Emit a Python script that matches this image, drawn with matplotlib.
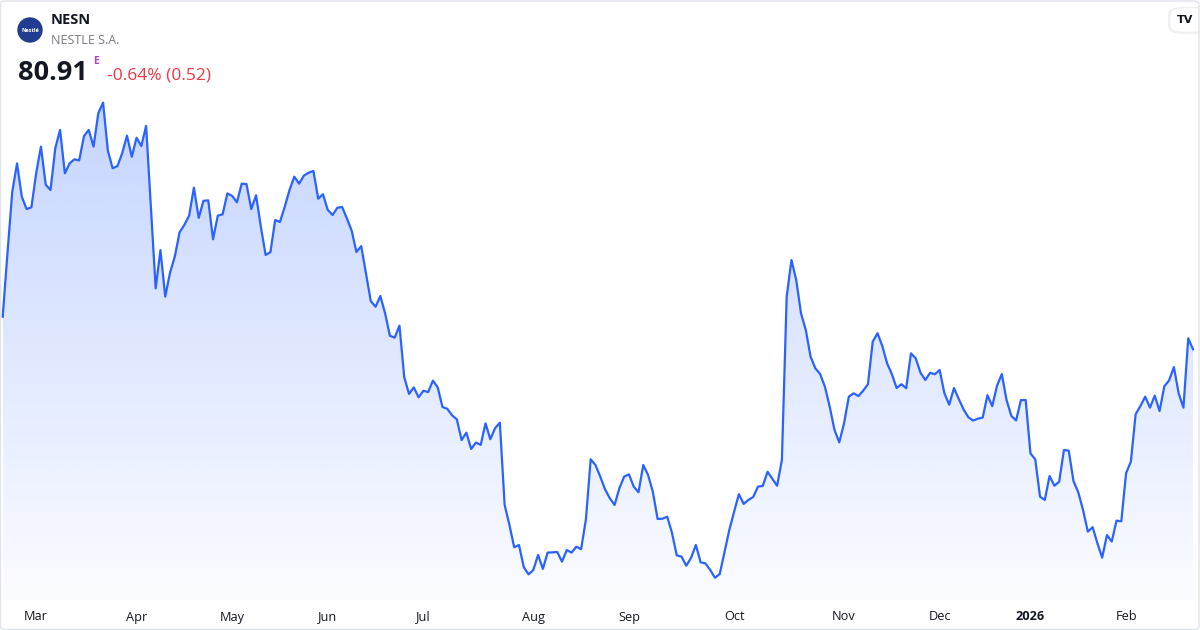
import numpy as np
import pandas as pd
import matplotlib
matplotlib.use('Agg')
import matplotlib.pyplot as plt
from matplotlib.patches import Ellipse, FancyBboxPatch

# header text
ticker = 'NESN'
company = 'NESTLE S.A.'
last_price = '80.91'
change_text = '-0.64% (0.52)'

# SIX trading days, Feb 20 2025 .. Feb 20 2026
holidays = ['2025-04-18', '2025-04-21', '2025-05-01', '2025-05-29', '2025-06-09',
            '2025-08-01', '2025-12-24', '2025-12-25', '2025-12-26', '2025-12-31',
            '2026-01-01', '2026-01-02']
dates = pd.bdate_range('2025-02-20', '2026-02-20', freq='C', holidays=holidays)

# daily close (CHF)
close = [
    82.45, 85.46, 88.36, 89.70, 88.12, 87.54, 87.62, 89.23, 90.49, 88.69,
    88.44, 90.41, 91.28, 89.23, 89.70, 89.89, 89.84, 90.99, 91.28, 90.49,
    92.07, 92.57, 90.30, 89.47, 89.57, 90.18, 91.01, 90.01, 90.91, 90.52,
    91.47, 87.59, 83.79, 85.60, 83.40, 84.53, 85.29, 86.44, 86.79, 87.23,
    88.55, 87.12, 87.93, 87.95, 86.11, 87.23, 87.29, 88.28, 88.16, 87.86,
    88.74, 88.72, 87.54, 88.19, 86.71, 85.37, 85.50, 87.02, 86.93, 87.65,
    88.44, 89.07, 88.74, 89.12, 89.26, 89.34, 88.03, 88.24, 87.50, 87.26,
    87.60, 87.64, 87.10, 86.52, 85.51, 85.79, 84.50, 83.19, 82.92, 83.43,
    82.61, 81.55, 81.46, 82.03, 79.59, 78.80, 79.11, 78.64, 78.95, 78.89,
    79.43, 79.11, 78.18, 78.10, 77.79, 77.60, 76.62, 76.97, 76.20, 76.50,
    76.39, 77.41, 76.66, 77.18, 77.44, 73.55, 72.61, 71.55, 71.66, 70.61,
    70.27, 70.48, 71.19, 70.53, 71.30, 71.31, 71.33, 70.87, 71.42, 71.30,
    71.58, 71.46, 72.87, 75.71, 75.44, 74.89, 74.29, 73.87, 73.55, 74.34,
    74.89, 75.00, 74.42, 74.15, 75.44, 74.97, 74.18, 72.89, 72.90, 73.00,
    72.24, 71.17, 71.11, 70.68, 71.05, 71.66, 70.84, 70.79, 70.48, 70.11,
    70.29, 71.34, 72.37, 73.23, 74.06, 73.60, 73.79, 73.93, 74.42, 74.45,
    75.12, 74.79, 74.46, 75.68, 83.40, 85.13, 84.19, 82.61, 81.82, 80.56,
    80.01, 79.74, 79.14, 78.20, 77.10, 76.51, 77.41, 78.67, 78.83, 78.70,
    78.95, 79.26, 81.27, 81.67, 81.07, 80.25, 79.74, 79.08, 79.26, 79.07,
    80.72, 80.48, 79.80, 79.46, 79.80, 79.73, 79.93, 78.83, 78.29, 79.08,
    78.56, 78.07, 77.70, 77.54, 77.63, 77.68, 78.74, 78.22, 79.19, 79.74,
    78.51, 77.76, 77.55, 78.51, 78.51, 75.99, 75.71, 73.94, 73.79, 74.92,
    74.46, 74.65, 76.15, 76.12, 74.68, 74.15, 73.31, 72.29, 72.50, 71.74,
    71.06, 72.13, 71.82, 72.81, 72.78, 75.05, 75.60, 77.84, 78.23, 78.67,
    78.15, 78.72, 77.99, 79.16, 79.44, 80.07, 78.83, 78.15, 81.43, 80.91,
]

n = min(len(dates), len(close))
dates = dates[:n]
close = np.array(close[:n])
x = np.arange(n)

W, H = 1200, 630
fig = plt.figure(figsize=(W / 100, H / 100), dpi=100)
fig.patch.set_facecolor('white')
ax = fig.add_axes([0, 0, 1, 1])
ax.axis('off')

step = 1190.3 / (n - 1)
ppx = 0.52 / 11.0  # price per pixel
ytop = close[-1] + 349.3 * ppx
ybot = close[-1] - (H - 349.3) * ppx
fill_floor = close[-1] - (600 - 349.3) * ppx

line_color = '#2962ff'

# gradient area under the line
poly = ax.fill_between(x, close, fill_floor, color='none', lw=0)
grad = np.zeros((256, 1, 4))
grad[:, 0, 0] = 41 / 255
grad[:, 0, 1] = 98 / 255
grad[:, 0, 2] = 1.0
grad[:, 0, 3] = np.linspace(0.27, 0.02, 256)
im = ax.imshow(grad, aspect='auto', extent=[x[0], x[-1], fill_floor, close.max()],
               origin='upper', zorder=1)
im.set_clip_path(poly.get_paths()[0], transform=ax.transData)

ax.plot(x, close, color=line_color, lw=1.6, zorder=3, solid_joinstyle='round')
ax.set_ylim(ybot, ytop)
ax.set_xlim(-2.7 / step, (n - 1) + 7 / step)

# month labels
font = 'Open Sans'
ym = 1 - 617 / H
for i in range(1, n):
    if dates[i].month != dates[i - 1].month:
        if dates[i].month == 1:
            lab, fw = str(dates[i].year), 'bold'
        else:
            lab, fw = dates[i].strftime('%b'), 'normal'
        ax.text(x[i], ym, lab, transform=ax.get_xaxis_transform(), ha='center',
                va='center', fontsize=9.2, color='#131722', fontweight=fw,
                family=font)


def px(xp, yp):
    return xp / W, 1 - yp / H


# header
logo = Ellipse(px(30, 30), 24 / W, 24 / H, transform=fig.transFigure,
               color='#203d8f', zorder=2)
fig.patches.append(logo)
fig.text(*px(30, 30), 'Nestlé', ha='center', va='center', fontsize=4,
         color='white', fontweight='bold', family=font, zorder=6)
fig.text(*px(51, 20), ticker, ha='left', va='center', fontsize=10.5,
         fontweight='bold', color='#131722', family=font)
fig.text(*px(51, 41), company, ha='left', va='center', fontsize=9,
         color='#787b86', family=font)
fig.text(*px(18, 73), last_price, ha='left', va='center', fontsize=19.5,
         fontweight='bold', color='#131722', family=font)
fig.text(*px(93, 61), 'E', ha='left', va='center', fontsize=7.5,
         fontweight='bold', color='#ab47bc', family=font)
fig.text(*px(107, 75), change_text, ha='left', va='center', fontsize=12.5,
         color='#f23645', family=font)

# TradingView badge
shadow = FancyBboxPatch(px(1168, 34), 40 / W, 27 / H,
                        boxstyle='round,pad=0,rounding_size=0.012',
                        transform=fig.transFigure, facecolor='#000000',
                        alpha=0.06, edgecolor='none')
badge = FancyBboxPatch(px(1170, 32), 40 / W, 24 / H,
                       boxstyle='round,pad=0,rounding_size=0.01',
                       transform=fig.transFigure, facecolor='white',
                       edgecolor='#eeeeee', lw=0.5)
fig.patches.extend([shadow, badge])
fig.text(*px(1185, 20), 'TV', ha='center', va='center', fontsize=8,
         fontweight='heavy', color='#131722', family='DejaVu Sans', zorder=6)

# outer frame
frame = FancyBboxPatch((0.5 / W, 0.5 / H), (W - 1.5) / W, (H - 1.5) / H,
                       boxstyle='round,pad=0,rounding_size=0.005',
                       transform=fig.transFigure, facecolor='none',
                       edgecolor='#e0e3eb', lw=1)
fig.patches.append(frame)

fig.savefig('out.png', dpi=100)
